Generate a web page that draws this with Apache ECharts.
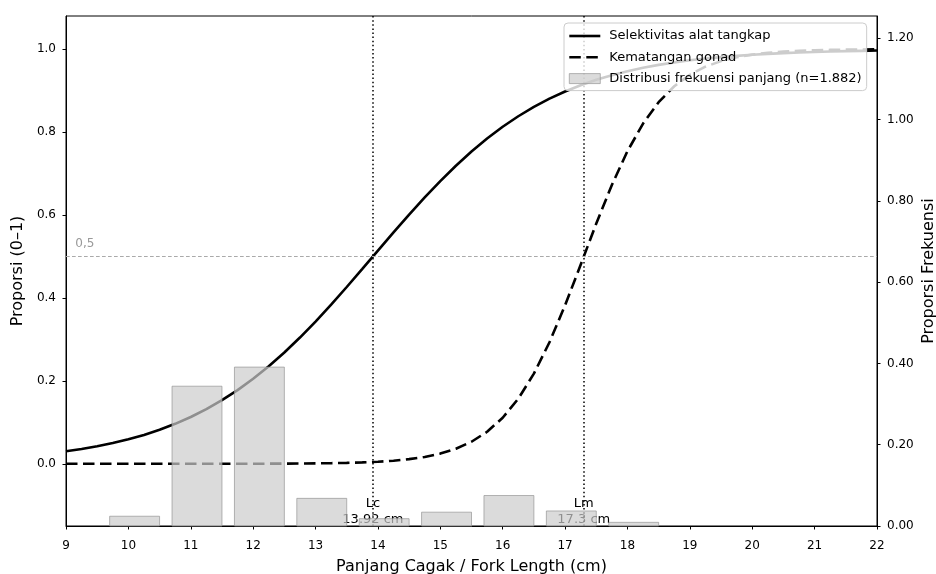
<!DOCTYPE html>
<html>
<head>
<meta charset="utf-8">
<title>Selektivitas alat tangkap dan kematangan gonad</title>
<script src="https://cdn.jsdelivr.net/npm/echarts@6/dist/echarts.min.js"></script>
<style>
  html, body { margin: 0; padding: 0; background: #ffffff; }
  #chart { width: 936px; height: 574px; }
</style>
</head>
<body>
<div id="chart"></div>
<script>
// Fork length grid (cm) for both ogive curves
const LENGTHS = [
  9, 9.25, 9.5, 9.75, 10, 10.25, 10.5, 10.75, 11, 11.25, 11.5, 11.75,
  12, 12.25, 12.5, 12.75, 13, 13.25, 13.5, 13.75, 14, 14.25, 14.5, 14.75,
  15, 15.25, 15.5, 15.75, 16, 16.25, 16.5, 16.75, 17, 17.25, 17.5, 17.75,
  18, 18.25, 18.5, 18.75, 19, 19.25, 19.5, 19.75, 20, 20.25, 20.5, 20.75,
  21, 21.25, 21.5, 21.75, 22
];

// Gear selectivity ogive (proportion retained)
const SELECTIVITY = [
  0.0301, 0.0357, 0.0423, 0.0500, 0.0591, 0.0697, 0.0821, 0.0964, 0.1129, 0.1318, 0.1534, 0.1777,
  0.2050, 0.2352, 0.2685, 0.3045, 0.3431, 0.3839, 0.4264, 0.4700, 0.5141, 0.5580, 0.6010, 0.6424,
  0.6819, 0.7189, 0.7532, 0.7845, 0.8128, 0.8382, 0.8607, 0.8806, 0.8979, 0.9130, 0.9260, 0.9373,
  0.9469, 0.9551, 0.9621, 0.9680, 0.9731, 0.9773, 0.9809, 0.9839, 0.9865, 0.9887, 0.9905, 0.9920,
  0.9933, 0.9944, 0.9953, 0.9960, 0.9967
];

// Gonad maturity ogive (proportion mature)
const MATURITY = [
  0, 0, 0, 0, 0, 0, 0, 0, 0, 0, 0, 0.0001,
  0.0002, 0.0003, 0.0005, 0.0007, 0.0010, 0.0015, 0.0023, 0.0034, 0.0051, 0.0075, 0.0112, 0.0166,
  0.0246, 0.0363, 0.0532, 0.0773, 0.1111, 0.1571, 0.2175, 0.2932, 0.3823, 0.4800, 0.5794, 0.6726,
  0.7540, 0.8205, 0.8721, 0.9105, 0.9382, 0.9577, 0.9712, 0.9805, 0.9869, 0.9912, 0.9941, 0.9960,
  0.9973, 0.9982, 0.9988, 0.9992, 0.9995
];

// Length-frequency distribution: class centres (cm) and proportion of catch
const BAR_CENTERS = [10.1, 11.1, 12.1, 13.1, 14.1, 15.1, 16.1, 17.1, 18.1];
const FREQ_PROP   = [0.024, 0.344, 0.391, 0.068, 0.018, 0.034, 0.075, 0.037, 0.009];

// Axis ticks
const X_TICKS = [9, 10, 11, 12, 13, 14, 15, 16, 17, 18, 19, 20, 21, 22];
const LEFT_TICKS = [0, 0.2, 0.4, 0.6, 0.8, 1.0];
const RIGHT_TICKS = [0, 0.2, 0.4, 0.6, 0.8, 1.0, 1.2];

// Reference lengths
const LC = 13.92;   // length at first capture
const LM = 17.3;    // length at first maturity
const HALF = 0.5;

const NAME_SEL = 'Selektivitas alat tangkap';
const NAME_MAT = 'Kematangan gonad';
const NAME_FREQ = 'Distribusi frekuensi panjang (n=1.882)';

const FONT = 'DejaVu Sans';
const BAR_WIDTH = 0.8;
const BAR_FILL = 'rgba(204,204,204,0.7)';
const BAR_EDGE = 'rgba(150,150,150,0.7)';
const CURVE_WIDTH = 2.6;
const DASH = [11.5, 5.5];

const chart = echarts.init(document.getElementById('chart'), null, { renderer: 'canvas' });

const pairs = (xs, ys) => xs.map((x, i) => [x, ys[i]]);

const tickStyle = { show: true, inside: false, length: 3.5, lineStyle: { color: '#000', width: 1 } };
const axisCommon = {
  axisLine: { show: true, onZero: false, lineStyle: { color: '#000', width: 1 } },
  splitLine: { show: false },
  nameLocation: 'middle',
  nameTextStyle: { fontFamily: FONT, fontSize: 16, color: '#000' }
};

const option = {
  animation: false,
  backgroundColor: '#ffffff',
  grid: {
    left: 66, right: 59, top: 16, bottom: 48,
    outerBoundsMode: 'none',
    containLabel: false,
    show: true, borderColor: '#000', borderWidth: 1, backgroundColor: 'transparent'
  },
  legend: {
    orient: 'vertical',
    left: 564, top: 23,
    z: 10,
    padding: [6, 5, 5, 4],
    itemWidth: 31, itemHeight: 10, itemGap: 7.3,
    backgroundColor: 'rgba(255,255,255,0.8)',
    borderColor: '#cccccc', borderWidth: 1, borderRadius: 4,
    textStyle: { fontFamily: FONT, fontSize: 13, color: '#000', lineHeight: 14, padding: [0, 0, 0, 4] },
    data: [
      { name: NAME_SEL, itemStyle: { opacity: 0 },
        lineStyle: { color: '#000', width: CURVE_WIDTH, type: 'solid' } },
      { name: NAME_MAT, itemStyle: { opacity: 0 },
        lineStyle: { color: '#000', width: CURVE_WIDTH, type: DASH } },
      { name: NAME_FREQ, icon: 'rect',
        itemStyle: { color: BAR_FILL, borderColor: BAR_EDGE, borderWidth: 1 } }
    ]
  },
  xAxis: Object.assign({}, axisCommon, {
    type: 'value',
    min: 9, max: 22, interval: 1,
    name: 'Panjang Cagak / Fork Length (cm)',
    nameGap: 33,
    axisLabel: {
      fontFamily: FONT, fontSize: 12, color: '#000', margin: 14,
      customValues: X_TICKS
    },
    axisTick: Object.assign({}, tickStyle, { customValues: X_TICKS })
  }),
  yAxis: [
    Object.assign({}, axisCommon, {
      type: 'value',
      position: 'left',
      min: -0.15, max: 1.08,
      name: 'Proporsi (0–1)',
      nameGap: 38,
      axisLabel: {
        fontFamily: FONT, fontSize: 12, color: '#000', margin: 10,
        customValues: LEFT_TICKS,
        formatter: v => v.toFixed(1)
      },
      axisTick: Object.assign({}, tickStyle, { customValues: LEFT_TICKS })
    }),
    Object.assign({}, axisCommon, {
      type: 'value',
      position: 'right',
      min: 0, max: 1.255,
      name: 'Proporsi Frekuensi',
      nameGap: 44,
      nameMoveOverlap: false,
      axisLabel: {
        fontFamily: FONT, fontSize: 12, color: '#000', margin: 10,
        customValues: RIGHT_TICKS,
        formatter: v => v.toFixed(2)
      },
      axisTick: Object.assign({}, tickStyle, { customValues: RIGHT_TICKS })
    })
  ],
  series: [
    {
      name: NAME_SEL,
      type: 'line',
      xAxisIndex: 0, yAxisIndex: 0,
      data: pairs(LENGTHS, SELECTIVITY),
      showSymbol: false, symbol: 'none',
      smooth: false,
      lineStyle: { color: '#000', width: CURVE_WIDTH, type: 'solid' },
      itemStyle: { color: '#000' },
      z: 2,
      markLine: {
        silent: true,
        symbol: ['none', 'none'],
        label: { show: false },
        lineStyle: { color: '#000', width: 1.5, type: [1.5, 2.6] },
        data: [{ xAxis: LC }, { xAxis: LM }]
      },
      markPoint: {
        silent: true,
        symbol: 'rect', symbolSize: 1,
        itemStyle: { color: 'rgba(0,0,0,0)' },
        label: {
          show: true, position: 'inside',
          fontFamily: FONT, fontSize: 13, color: '#000', lineHeight: 16,
          align: 'center', verticalAlign: 'middle'
        },
        data: [
          { coord: [LC, -0.115], label: { formatter: 'Lc\n' + LC + ' cm' } },
          { coord: [LM, -0.115], label: { formatter: 'Lm\n' + LM + ' cm' } }
        ]
      }
    },
    {
      name: NAME_MAT,
      type: 'line',
      xAxisIndex: 0, yAxisIndex: 0,
      data: pairs(LENGTHS, MATURITY),
      showSymbol: false, symbol: 'none',
      smooth: false,
      lineStyle: { color: '#000', width: CURVE_WIDTH, type: DASH },
      itemStyle: { color: '#000' },
      z: 2,
      markLine: {
        silent: true,
        symbol: ['none', 'none'],
        label: { show: false },
        lineStyle: { color: '#aaaaaa', width: 1, type: [3.7, 2.3] },
        data: [{ yAxis: HALF }]
      },
      markPoint: {
        silent: true,
        symbol: 'rect', symbolSize: 1,
        itemStyle: { color: 'rgba(0,0,0,0)' },
        label: {
          show: true, position: 'inside',
          fontFamily: FONT, fontSize: 12, color: '#999999',
          align: 'left', verticalAlign: 'middle',
          formatter: String(HALF).replace('.', ',')
        },
        data: [{ coord: [9.15, 0.53] }]
      }
    },
    {
      name: NAME_FREQ,
      type: 'custom',
      xAxisIndex: 0, yAxisIndex: 1,
      data: pairs(BAR_CENTERS, FREQ_PROP),
      encode: { x: 0, y: 1 },
      z: 6,
      itemStyle: { color: BAR_FILL },
      renderItem: function (params, api) {
        const x = api.value(0);
        const h = api.value(1);
        const topLeft = api.coord([x - BAR_WIDTH / 2, h]);
        const bottomRight = api.coord([x + BAR_WIDTH / 2, 0]);
        return {
          type: 'rect',
          shape: {
            x: topLeft[0], y: topLeft[1],
            width: bottomRight[0] - topLeft[0],
            height: bottomRight[1] - topLeft[1]
          },
          style: { fill: BAR_FILL, stroke: BAR_EDGE, lineWidth: 1 }
        };
      }
    }
  ]
};

chart.setOption(option);
</script>
</body>
</html>
